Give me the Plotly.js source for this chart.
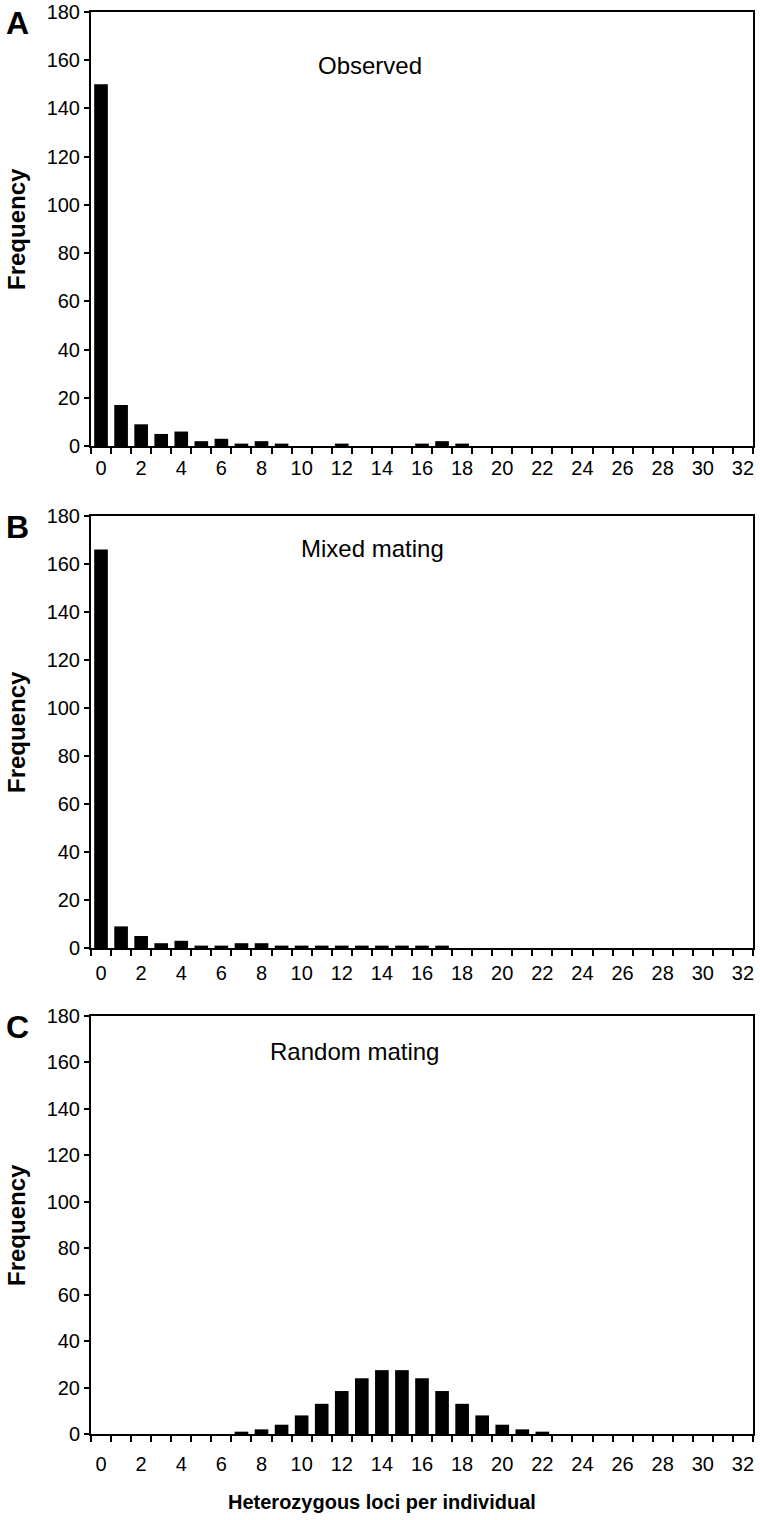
<!DOCTYPE html>
<html>
<head>
<meta charset="utf-8">
<script src="https://cdn.plot.ly/plotly-3.0.1.min.js"></script>
<style>html,body{margin:0;padding:0;background:#fff;}#chart{width:760px;height:1520px;}</style>
</head>
<body>
<div id="chart"></div>
<script>
const categories = [0,1,2,3,4,5,6,7,8,9,10,11,12,13,14,15,16,17,18,19,20,21,22,23,24,25,26,27,28,29,30,31,32];
const observed   = [150,17,9,5,6,2,3,1,2,1,0,0,1,0,0,0,1,2,1,0,0,0,0,0,0,0,0,0,0,0,0,0,0];
const mixedMating= [166,9,5,2,3,1,1,2,2,1,1,1,1,1,1,1,1,1,0,0,0,0,0,0,0,0,0,0,0,0,0,0,0];
const randomMating=[0,0,0,0,0,0,0,1,2,4,8,13,18.5,24,27.5,27.5,24,18.5,13,8,4,2,1,0,0,0,0,0,0,0,0,0,0];
const xTickVals = [0,2,4,6,8,10,12,14,16,18,20,22,24,26,28,30,32];
const yTickVals = [0,20,40,60,80,100,120,140,160,180];
const panelLetters = ["A","B","C"];
const panelLabels = ["Observed","Mixed mating","Random mating"];
const yTitle = "Frequency";
const xTitle = "Heterozygous loci per individual";

const W = 760, H = 1520;
const FONT = "Liberation Sans, Arial, Helvetica, sans-serif";
const px = v => v / W;
const py = v => 1 - v / H;

const panels = [
  {top: 12, bottom: 446, data: observed, labelLen: 3},
  {top: 516, bottom: 948, data: mixedMating, labelLen: 6},
  {top: 1016, bottom: 1434, data: randomMating, labelLen: 11}
];
const left = 91, right = 753;

const traces = [];
const layout = {
  width: W, height: H,
  margin: {l: 0, r: 0, t: 0, b: 0},
  paper_bgcolor: "#fff", plot_bgcolor: "#fff",
  showlegend: false,
  font: {family: FONT, color: "#000", size: 20},
  annotations: []
};

panels.forEach((p, i) => {
  const n = i === 0 ? "" : String(i + 1);
  traces.push({
    type: "bar", x: categories, y: p.data,
    xaxis: "x" + n, yaxis: "y" + n,
    width: 0.68,
    marker: {color: "#000", line: {width: 0}},
    hoverinfo: "x+y"
  });
  layout["xaxis" + n] = {
    domain: [px(left), px(right)],
    anchor: "y" + n,
    range: [-0.5, 32.5],
    tickmode: "array", tickvals: xTickVals, ticktext: xTickVals.map(String),
    ticks: "outside", ticklen: p.labelLen, tickcolor: "rgba(0,0,0,0)",
    tickfont: {family: FONT, size: 20, color: "#000"},
    minor: {tickmode: "linear", tick0: 0.5, dtick: 1, ticks: "outside", ticklen: 6, tickwidth: 2, tickcolor: "#000", showgrid: false},
    showline: true, linecolor: "#000", linewidth: 2, mirror: true,
    showgrid: false, zeroline: false, fixedrange: true, automargin: false
  };
  layout["yaxis" + n] = {
    domain: [py(p.bottom), py(p.top)],
    anchor: "x" + n,
    range: [0, 180],
    tickmode: "array", tickvals: yTickVals,
    ticks: "outside", ticklen: 5, tickwidth: 2, tickcolor: "#000",
    tickfont: {family: FONT, size: 20, color: "#000"},
    showline: true, linecolor: "#000", linewidth: 2, mirror: true,
    showgrid: false, zeroline: false, fixedrange: true, automargin: false
  };
  layout.annotations.push({
    xref: "paper", yref: "paper", x: px(17), y: py(p.top + 11),
    text: "<b>" + panelLetters[i] + "</b>", showarrow: false,
    font: {family: FONT, size: 32, color: "#000"}, xanchor: "center", yanchor: "middle"
  });
  layout.annotations.push({
    xref: "paper", yref: "paper", x: px(16), y: py((p.top + p.bottom) / 2),
    text: "<b>" + yTitle + "</b>", showarrow: false, textangle: -90,
    font: {family: FONT, size: 24, color: "#000"}, xanchor: "center", yanchor: "middle"
  });
});

layout.annotations.push({xref: "paper", yref: "paper", x: px(370), y: py(66), text: panelLabels[0], showarrow: false, font: {family: FONT, size: 24, color: "#000"}, xanchor: "center", yanchor: "middle"});
layout.annotations.push({xref: "paper", yref: "paper", x: px(372), y: py(548), text: panelLabels[1], showarrow: false, font: {family: FONT, size: 24, color: "#000"}, xanchor: "center", yanchor: "middle"});
layout.annotations.push({xref: "paper", yref: "paper", x: px(354), y: py(1051), text: panelLabels[2], showarrow: false, font: {family: FONT, size: 24, color: "#000"}, xanchor: "center", yanchor: "middle"});
layout.annotations.push({xref: "paper", yref: "paper", x: px(382), y: py(1502), text: "<b>" + xTitle + "</b>", showarrow: false, font: {family: FONT, size: 20, color: "#000"}, xanchor: "center", yanchor: "middle"});

Plotly.newPlot("chart", traces, layout, {displayModeBar: false, staticPlot: true});
</script>
</body>
</html>
